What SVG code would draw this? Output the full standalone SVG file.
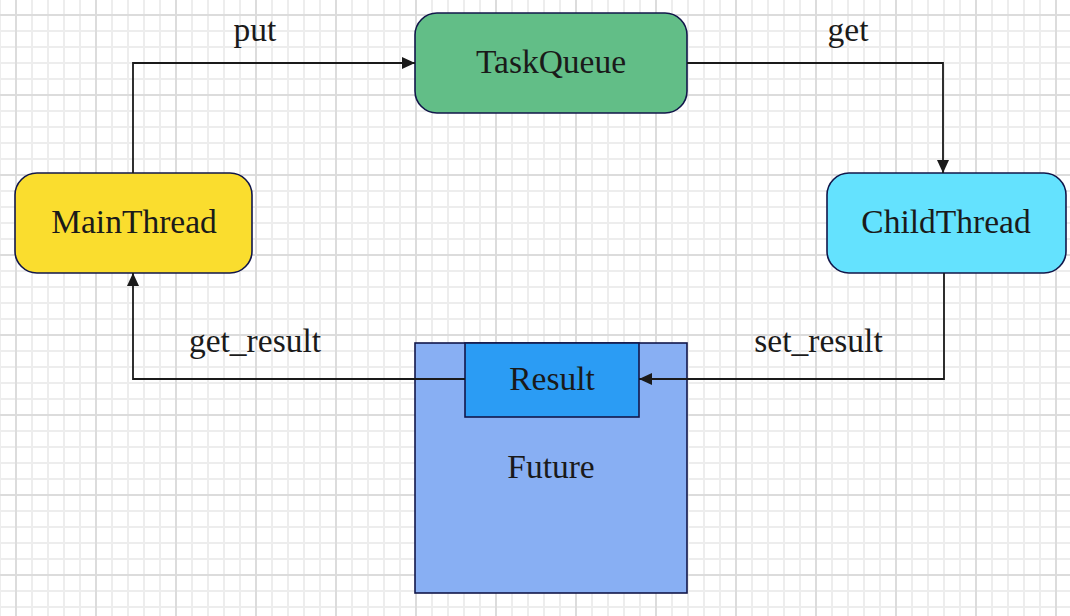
<svg xmlns="http://www.w3.org/2000/svg" width="1070" height="616" viewBox="0 0 1070 616">
  <defs>
    <pattern id="grid" x="8" y="7" width="80" height="80" patternUnits="userSpaceOnUse">
      <path d="M24,0V80M40,0V80M56,0V80M72,0V80M0,24H80M0,40H80M0,56H80M0,72H80" stroke="#ededed" stroke-width="2" fill="none"/>
      <path d="M8,0V80M0,8H80" stroke="#dcdcdc" stroke-width="2" fill="none"/>
    </pattern>
    <marker id="arrow" markerUnits="userSpaceOnUse" markerWidth="13" markerHeight="13" refX="13" refY="6.5" orient="auto">
      <path d="M0,0.5 L13,6.5 L0,12.5 Z" fill="#1a1a1a"/>
    </marker>
    <style>
      .node { stroke: #12174a; stroke-width: 1.6; }
      .label { font-family: "Liberation Serif", "Times New Roman", serif; font-size: 33.5px; fill: #1a1a1a; text-anchor: middle; }
      .edge { fill: none; stroke: #1a1a1a; stroke-width: 1.8; }
    </style>
  </defs>
  <rect width="1070" height="616" fill="#ffffff"/>
  <rect width="1070" height="616" fill="url(#grid)"/>

  <g id="future">
    <rect class="node" x="415" y="343" width="272" height="250" fill="#88aff3"/>
    <text class="label" x="551" y="478">Future</text>
  </g>
  <g id="result">
    <rect class="node" x="465" y="343" width="174" height="74" fill="#2b9cf4"/>
    <text class="label" x="552" y="390">Result</text>
  </g>
  <g id="mainthread">
    <rect class="node" x="15" y="173" width="237" height="100" rx="22" ry="22" fill="#fadd2e"/>
    <text class="label" x="134" y="233">MainThread</text>
  </g>
  <g id="taskqueue">
    <rect class="node" x="415" y="13" width="272" height="100" rx="22" ry="22" fill="#62be87"/>
    <text class="label" x="551" y="73">TaskQueue</text>
  </g>
  <g id="childthread">
    <rect class="node" x="827" y="173" width="239" height="100" rx="22" ry="22" fill="#64e2fe"/>
    <text class="label" x="946" y="233">ChildThread</text>
  </g>

  <g id="connectors">
    <path class="edge" d="M133,173 V63 H415" marker-end="url(#arrow)"/>
    <path class="edge" d="M687,63 H943 V173" marker-end="url(#arrow)"/>
    <path class="edge" d="M944,273 V379 H639" marker-end="url(#arrow)"/>
    <path class="edge" d="M465,379 H133 V273" marker-end="url(#arrow)"/>
    <text class="label" x="255" y="41">put</text>
    <text class="label" x="848" y="41">get</text>
    <text class="label" x="255" y="352">get_result</text>
    <text class="label" x="818.5" y="352">set_result</text>
  </g>
</svg>
